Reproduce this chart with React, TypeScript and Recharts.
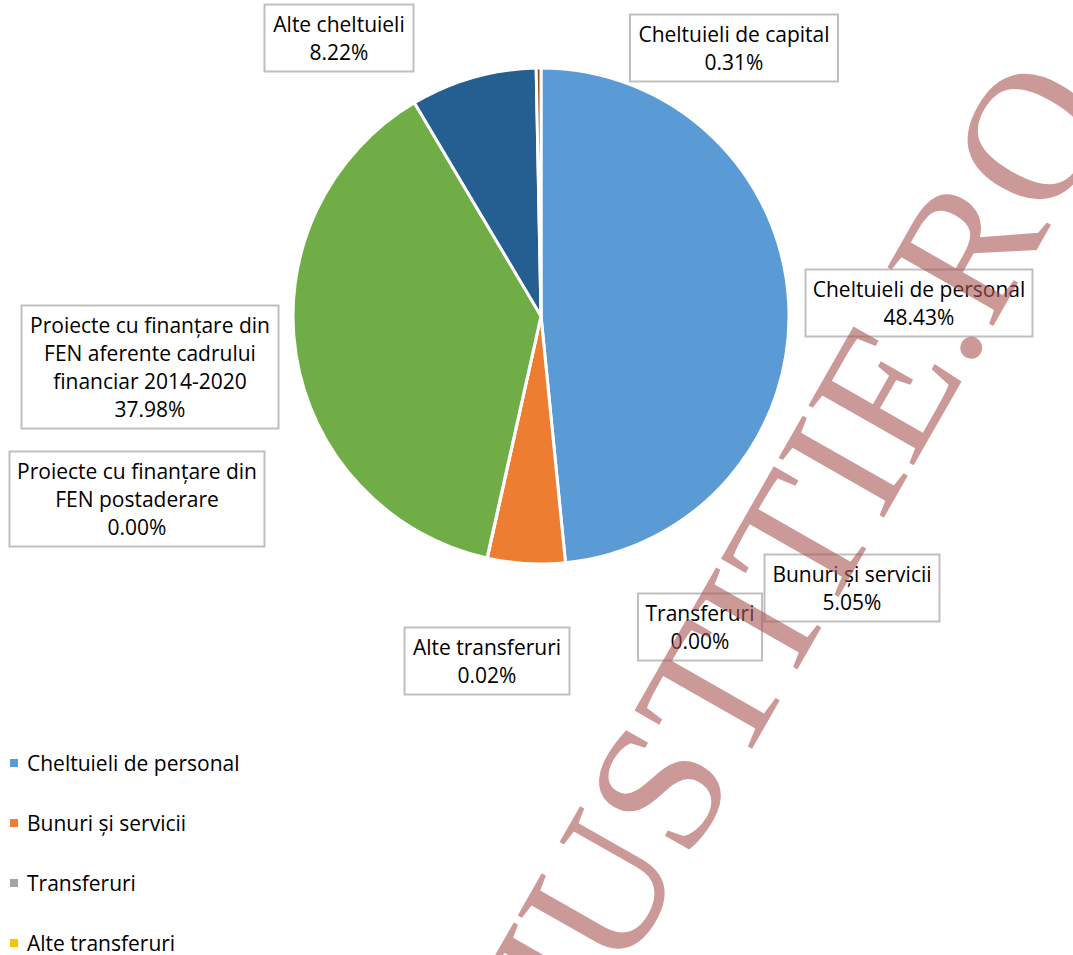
import { Cell, Legend, Pie, PieChart } from 'recharts'

const categories = [
  'Cheltuieli de personal',
  'Bunuri și servicii',
  'Transferuri',
  'Alte transferuri',
  'Proiecte cu finanțare din FEN postaderare',
  'Proiecte cu finanțare din FEN aferente cadrului financiar 2014-2020',
  'Alte cheltuieli',
  'Cheltuieli de capital',
]
const shares = [48.43, 5.05, 0.0, 0.02, 0.0, 37.98, 8.22, 0.31]
const colors = ['#5B9BD5', '#ED7D31', '#A5A5A5', '#FFC000', '#4472C4', '#70AD47', '#255E91', '#9E480E']

// how each data label wraps
const labelLines = [
  ['Cheltuieli de personal'],
  ['Bunuri și servicii'],
  ['Transferuri'],
  ['Alte transferuri'],
  ['Proiecte cu finanțare din', 'FEN postaderare'],
  ['Proiecte cu finanțare din', 'FEN aferente cadrului', 'financiar 2014-2020'],
  ['Alte cheltuieli'],
  ['Cheltuieli de capital'],
]

// label box placement, relative to the pie centre
const labelBoxes = [
  { dx: 378, dy: -13, w: 227 },
  { dx: 311, dy: 272, w: 175 },
  { dx: 159, dy: 311, w: 124 },
  { dx: -54, dy: 345, w: 165 },
  { dx: -404, dy: 183, w: 255 },
  { dx: -391, dy: 51, w: 257 },
  { dx: -202, dy: -278, w: 149 },
  { dx: 193, dy: -268, w: 208 },
]

const data = categories.map((name, i) => ({ name, value: shares[i] }))

const FONT = '"Open Sans", "Noto Sans", sans-serif'
const FONT_SIZE = 21
const LINE_H = 28

const renderLabel = (props: any) => {
  const { cx, cy, index } = props
  const box = labelBoxes[index]
  const lines = [...labelLines[index], `${shares[index].toFixed(2)}%`]
  const h = lines.length * LINE_H + 11
  const x = cx + box.dx
  const y = cy + box.dy
  return (
    <g key={`label-${index}`}>
      <rect x={x - box.w / 2} y={y - h / 2} width={box.w} height={h} fill="#fff" stroke="#BFBFBF" strokeWidth={2} />
      {lines.map((t, j) => (
        <text
          key={j}
          x={x}
          y={y - h / 2 + 5.5 + LINE_H * (j + 0.5)}
          textAnchor="middle"
          dominantBaseline="central"
          fontSize={FONT_SIZE}
          fontFamily={FONT}
          fill="#000"
        >
          {t}
        </text>
      ))}
    </g>
  )
}

const renderLegend = (props: any) => {
  const items = [...(props.payload || [])].sort(
    (a: any, b: any) => categories.indexOf(a.value) - categories.indexOf(b.value),
  )
  return (
    <div style={{ fontFamily: FONT, fontSize: FONT_SIZE, color: '#000' }}>
      {items.map((item: any) => (
        <div key={item.value} style={{ height: 60, display: 'flex', alignItems: 'center', whiteSpace: 'nowrap' }}>
          <span style={{ width: 8, height: 8, background: item.color, marginRight: 9, display: 'inline-block' }} />
          {item.value}
        </div>
      ))}
    </div>
  )
}

export default function App() {
  return (
    <div style={{ position: 'fixed', left: 0, top: 0, width: 1073, height: 955, overflow: 'hidden', background: '#fff' }}>
      <PieChart width={1073} height={1300} margin={{ top: 0, right: 0, bottom: 0, left: 0 }}>
        <Pie
          data={data}
          dataKey="value"
          nameKey="name"
          cx={541}
          cy={316}
          outerRadius={248}
          startAngle={90}
          endAngle={-270}
          stroke="#fff"
          strokeWidth={3}
          label={renderLabel}
          labelLine={false}
          isAnimationActive={false}
        >
          {data.map((d, i) => (
            <Cell key={d.name} fill={colors[i]} />
          ))}
        </Pie>
        <Legend
          layout="vertical"
          align="center"
          verticalAlign="bottom"
          content={renderLegend}
          wrapperStyle={{ left: 10, top: 733, bottom: 'auto', width: 'auto' }}
        />
      </PieChart>
      <svg width={1073} height={955} style={{ position: 'absolute', left: 0, top: 0, pointerEvents: 'none' }}>
        <text
          x={797}
          y={544}
          transform="rotate(-60.3 797 544)"
          textAnchor="middle"
          dominantBaseline="central"
          fontFamily="'Liberation Serif', 'DejaVu Serif', serif"
          fontSize={185}
          fill="rgb(170,85,85)"
          fillOpacity={0.6}
        >
          JUSTITIE.RO
        </text>
      </svg>
    </div>
  )
}
